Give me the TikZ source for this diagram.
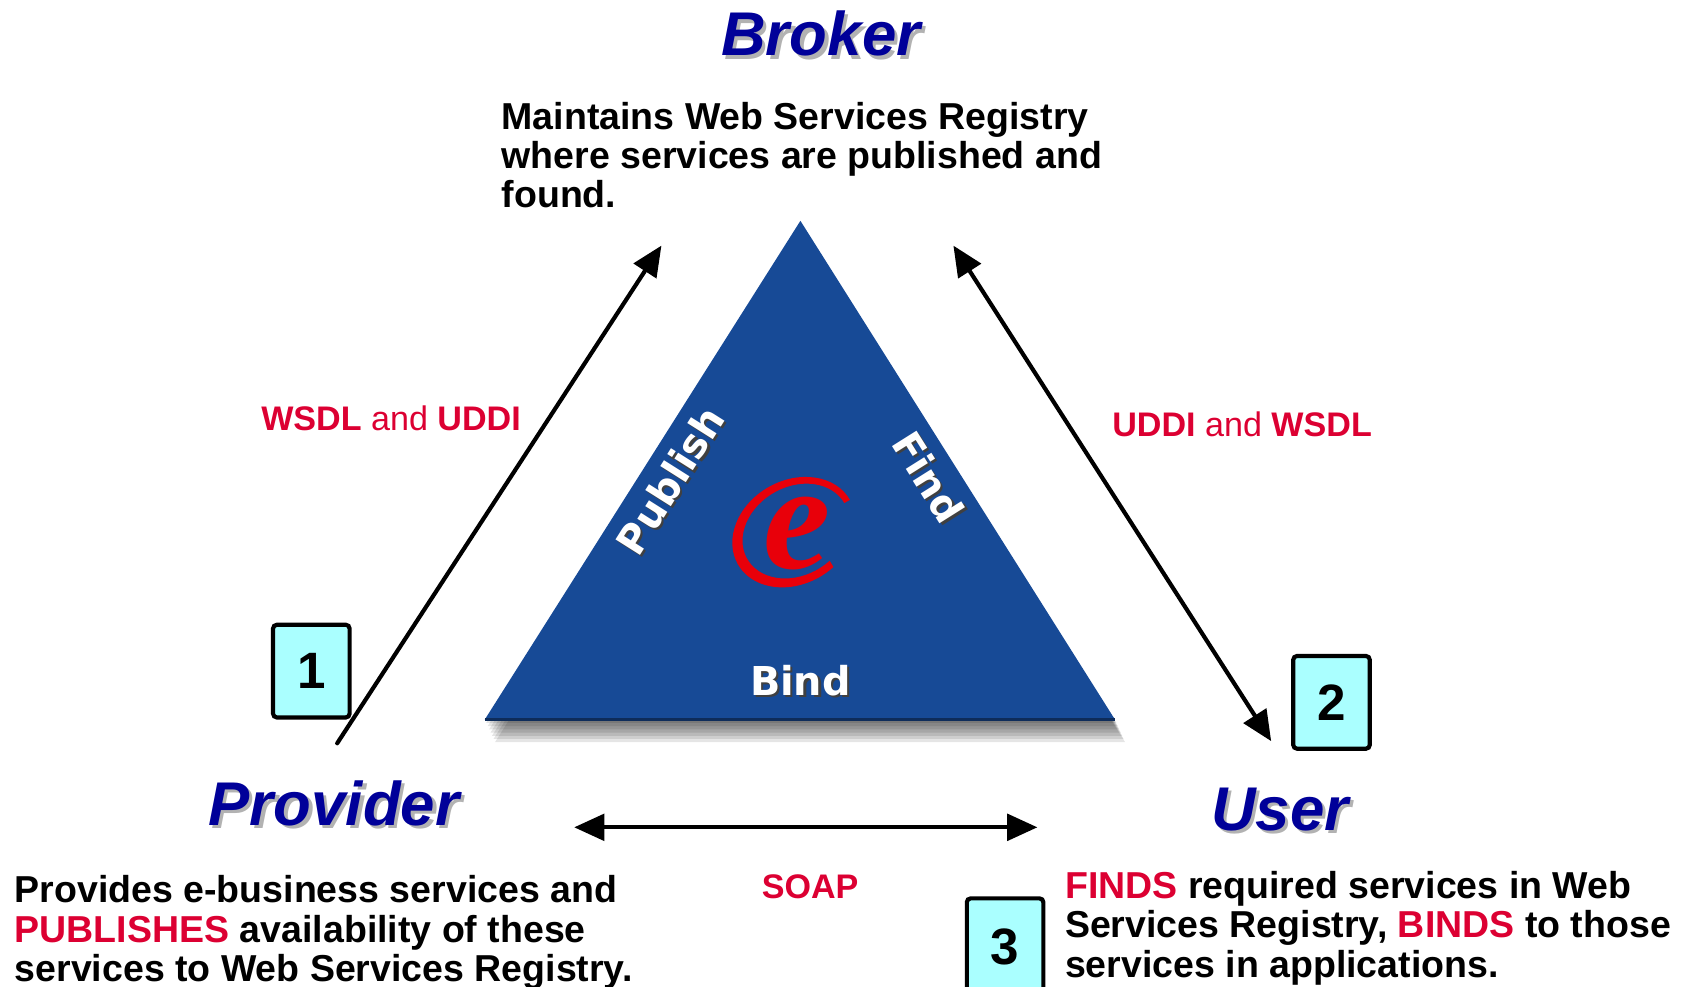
\documentclass[tikz,border=0pt]{standalone}
\usepackage{fontspec}
\setmainfont{Liberation Sans}
\newfontfamily\dejavu{DejaVu Sans}
\newfontfamily\logofont{Liberation Serif}
\usetikzlibrary{arrows.meta,positioning,calc}
\definecolor{titleblue}{RGB}{0,0,153}
\definecolor{triblue}{RGB}{23,74,150}
\definecolor{labelred}{RGB}{220,0,50}
\definecolor{boxcyan}{RGB}{170,255,255}
\definecolor{logored}{RGB}{232,0,10}

\begin{document}
\begin{tikzpicture}[x=0.01cm, y=0.01cm, >={Triangle[length=8pt,width=7pt]},
    roletitle/.style={font=\fontsize{16.3}{18}\selectfont\bfseries\itshape, text=titleblue, anchor=base, inner sep=0},
    roleshade/.style={roletitle, text=black!30},
    roledesc/.style={font=\fontsize{9.9}{10.4}\selectfont\bfseries, align=left, anchor=north west, inner sep=0},
    protolabel/.style={font=\fontsize{9}{10}\selectfont, text=labelred, inner sep=0},
    stepnum/.style={draw, line width=1.1pt, rounded corners=1pt, fill=boxcyan, minimum width=0.71cm, minimum height=0.86cm, font=\fontsize{13.5}{14}\selectfont\bfseries, inner sep=0},
    trilabel/.style={font=\dejavu\fontsize{10.5}{12}\selectfont\bfseries, text=white, inner sep=0},
    trishade/.style={trilabel, text=black!75},
    arrowline/.style={line width=1.1pt, line cap=round}]
    \useasboundingbox (0,0) rectangle (1566,916);

    % Triangle with its shadow
    \coordinate (apex) at (743,711);
    \coordinate (baseL) at (450,248);
    \coordinate (baseR) at (1035,248);
    \foreach \s in {3,6,...,21}
        \fill[black, opacity=0.1] ([shift={(0.45*\s,-\s)}]apex) -- ([shift={(0.45*\s,-\s)}]baseL) -- ([shift={(0.45*\s,-\s)}]baseR) -- cycle;
    \fill[triblue] (apex) -- (baseL) -- (baseR) -- cycle;
    \draw[triblue!60!black, line width=1pt] (baseL) -- (baseR);

    \node[trishade, rotate=57.7] (publishSh) at (624,468) {Publish};
    \node[trilabel, rotate=57.7] (publish) at (622,470) {Publish};
    \node[trishade, rotate=-57.8] (findSh) at (864,471) {Find};
    \node[trilabel, rotate=-57.8] (find) at (862,473) {Find};
    \node[trishade] (bindSh) at (745,282) {Bind};
    \node[trilabel] (bind) at (743,284) {Bind};

    % e logo
    \node[text=logored, font=\logofont\bfseries\itshape\fontsize{40}{40}\selectfont, inner sep=0] (logo) at (740,421) {e};
    \fill[logored, shift={(737,422)}, rotate=30] (0:60 and 48) arc[start angle=0, end angle=285, x radius=60, y radius=48]
        -- ([shift={(2,0)}]285:52 and 41) arc[start angle=285, end angle=0, x radius=52, y radius=41] -- cycle;

    % Roles
    \node[roleshade] (brokerSh) at (765,861) {Broker};
    \node[roletitle] (broker) at (762,864) {Broker};
    \node[roleshade] (providerSh) at (313,147) {Provider};
    \node[roletitle] (provider) at (310,150) {Provider};
    \node[roleshade] (userSh) at (1191,142) {User};
    \node[roletitle] (user) at (1188,145) {User};

    \node[roledesc] (brokerDesc) at (465,822) {Maintains Web Services Registry\\where services are published and\\found.};
    \node[roledesc] (providerDesc) at (13,104) {Provides e-business services and\\\textcolor{labelred}{PUBLISHES} availability of these\\services to Web Services Registry.};
    \node[roledesc] (userDesc) at (988,108) {\textcolor{labelred}{FINDS} required services in Web\\Services Registry, \textcolor{labelred}{BINDS} to those\\services in applications.};

    % Protocols
    \node[protolabel] (wsdlUddi) at (363,528) {\textbf{WSDL} and \textbf{UDDI}};
    \node[protolabel] (uddiWsdl) at (1153,522) {\textbf{UDDI} and \textbf{WSDL}};
    \node[protolabel, font=\fontsize{9}{10}\selectfont\bfseries] (soap) at (752,93) {SOAP};

    \coordinate (pubFrom) at (313,226);
    \coordinate (pubTo) at (614,688);
    \coordinate (findTop) at (885,688);
    \coordinate (findBot) at (1180,228);
    \coordinate (soapL) at (533,148);
    \coordinate (soapR) at (963,148);
    \draw[arrowline, ->] (pubFrom) -- (pubTo);
    \draw[arrowline, <->] (findTop) -- (findBot);
    \draw[arrowline, <->] (soapL) -- (soapR);

    % Steps
    \node[stepnum] (step1) at (289,293) {1};
    \node[stepnum] (step2) at (1236,264) {2};
    \node[stepnum, minimum height=0.9cm] (step3) at (933,37) {3};
\end{tikzpicture}
\end{document}
